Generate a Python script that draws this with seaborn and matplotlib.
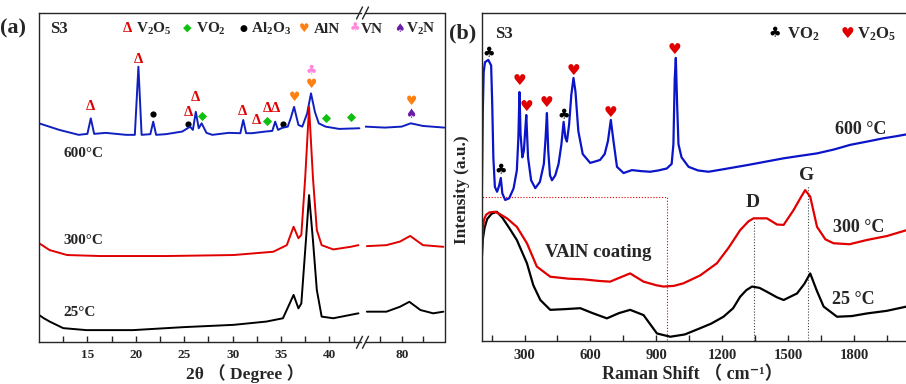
import numpy as np
import pandas as pd
import matplotlib
matplotlib.use("Agg")
import matplotlib.pyplot as plt
import seaborn as sns
from matplotlib.lines import Line2D

# ---------------- panel (a): XRD, 2theta (deg) vs intensity (a.u.) ----------------
xrd25_x = [10.0, 10.5, 11.1, 12.5, 14.9, 19.7, 24.9, 30.1, 33.5, 35.2, 35.9, 36.3, 36.8, 37.1, 37.6,
           37.9, 38.3, 38.7, 39.2, 40.4, 43.0, 75.9, 78.2, 79.8, 80.9, 82.2, 83.7, 84.9]
xrd25_y = [8.3, 7.3, 6.3, 4.3, 3.7, 3.7, 4.6, 5.3, 6.3, 7.3, 11.8, 14.4, 10.3, 11.8, 32.0,
           44.7, 31.0, 15.9, 7.8, 7.3, 8.8, 9.3, 9.3, 10.8, 12.3, 9.8, 8.8, 9.3]

xrd300_x = [10.0, 11.1, 12.9, 16.3, 23.2, 30.1, 34.2, 35.6, 36.3, 36.8, 37.1, 37.5, 37.9, 38.3, 38.7,
            39.2, 40.4, 42.2, 43.0, 75.9, 78.2, 79.8, 81.0, 82.5, 84.9]
xrd300_y = [30.1, 28.0, 26.5, 26.2, 26.2, 26.5, 27.5, 29.5, 35.1, 31.6, 32.6, 50.0, 71.5, 50.0, 34.1,
            29.5, 28.2, 29.0, 29.5, 29.2, 29.5, 30.6, 32.3, 29.5, 29.0]

xrd600_x = [10.0, 12.1, 14.1, 15.0, 15.35, 15.7, 16.9, 19.0, 19.9, 20.27, 20.6, 21.5, 21.8, 22.1, 23.1,
            24.8, 25.4, 25.6, 25.9, 26.2, 26.5, 26.8, 27.3, 27.9, 29.6, 30.8, 31.1, 31.4, 32.0, 33.4,
            34.1, 34.4, 34.7, 35.1, 35.7, 36.0, 36.35, 36.8, 37.2, 37.7, 38.1, 38.5, 38.9, 39.6, 41.0,
            43.1, 75.7, 78.0, 80.0, 81.06, 82.5, 85.0]
xrd600_y = [66.5, 64.5, 63.0, 63.3, 68.0, 63.3, 63.6, 63.0, 63.0, 83.7, 63.0, 63.2, 67.0, 63.0, 63.2,
            64.0, 65.1, 65.5, 64.5, 70.0, 65.0, 66.5, 63.6, 63.0, 63.6, 63.5, 67.5, 63.5, 63.5, 64.0,
            64.2, 67.0, 64.5, 65.1, 65.5, 68.0, 71.5, 66.0, 65.5, 69.5, 75.6, 70.0, 66.5, 65.5, 64.8,
            65.0, 65.5, 65.2, 65.5, 66.5, 65.7, 65.2]

# phase markers (position, height)
v2o5_pos = [15.35, 20.27, 25.4, 26.2, 31.0, 32.5, 33.6, 34.4]
v2o5_hgt = [71.5, 86.0, 69.8, 74.3, 70.0, 67.5, 71.1, 71.1]
vo2_pos = [26.8, 33.6, 39.6, 42.2]
vo2_hgt = [68.7, 67.2, 68.2, 68.5]
al2o3_pos = [21.8, 25.4, 35.2]
al2o3_hgt = [69.3, 66.3, 66.3]
aln_pos = [36.35, 38.1, 81.1]
aln_hgt = [74.3, 78.4, 73.1]
vn_pos = [38.1]
vn_hgt = [82.7]
v2n_pos = [81.1]
v2n_hgt = [69.2]

xrd_ticks_lo = [15, 20, 25, 30, 35, 40]
xrd_ticks_hi = [80]

# ---------------- panel (b): Raman ----------------
ram600_x = [106, 110, 114, 120, 135, 148, 153, 158, 165, 175, 185, 192, 199, 212, 230, 250, 265, 272, 277,
            282, 290, 297, 303, 308, 316, 330, 349, 370, 388, 396, 402, 408, 416, 425, 440, 455, 468, 478,
            486, 493, 503, 513, 523, 532, 545, 565, 599, 625, 644, 665, 680, 693, 705, 721, 751, 789, 830,
            872, 910, 948, 970, 978, 984, 989, 995, 1001, 1015, 1047, 1090, 1138, 1200, 1320, 1400, 1480,
            1560, 1632, 1710, 1783, 1860, 1934, 1990, 2040]
ram600_y = [46, 70, 82, 85, 85.7, 84, 72, 56, 47, 45.5, 47.5, 49.7, 45, 43, 43.5, 46.5, 52, 62, 75.9,
            63, 56, 58, 64, 68.9, 56, 49, 46.6, 48.5, 54, 62, 69.5, 58, 50.5, 49, 50.5, 54, 60, 66.8,
            62, 60.8, 66, 75, 80.2, 76, 64, 57, 54.3, 54.8, 55.2, 57, 61, 67.4, 61, 53.1, 51.2, 52.1, 51.8,
            51.6, 52, 52.6, 54, 60, 80, 86.3, 72, 60, 56, 53.1, 52, 51.6, 52.3, 53.7, 54.7, 55.7,
            56.5, 57.2, 58.4, 59.8, 60.8, 61.8, 62.4, 63.0]

ram300_x = [106, 110, 115, 125, 140, 167, 190, 220, 265, 311, 356, 417, 500, 569, 640, 690, 740, 781, 842,
            900, 933, 980, 1024, 1100, 1176, 1230, 1282, 1320, 1343, 1404, 1450, 1480, 1525, 1560, 1578,
            1601, 1632, 1670, 1707, 1780, 1859, 1950, 2040]
ram300_y = [28.7, 33.8, 36.9, 38.5, 39.2, 39.4, 38.6, 37.4, 34.8, 29.8, 22.7, 19.6, 19.0, 18.8, 18.3, 18.1,
            19.5, 20.6, 18.1, 17.0, 16.6, 16.8, 17.6, 20.0, 23.7, 28.5, 33.8, 36.5, 37.4, 37.4, 35.5,
            35.4, 39.9, 44.0, 46.0, 44.0, 34.8, 31.0, 29.8, 29.5, 30.8, 32.0, 33.8]

ram25_x = [106, 110, 118, 130, 150, 174, 200, 230, 265, 311, 340, 372, 417, 480, 554, 610, 675, 730, 781,
           842, 903, 964, 1030, 1100, 1150, 1206, 1250, 1282, 1310, 1336, 1370, 1404, 1450, 1480, 1541,
           1575, 1601, 1630, 1662, 1723, 1790, 1859, 1950, 2040]
ram25_y = [25.7, 31.0, 34.5, 37.2, 38.8, 39.4, 37.5, 34.5, 30.8, 23.7, 17.0, 12.5, 9.5, 9.7, 10.0, 8.5,
           6.9, 8.5, 9.5, 7.9, 2.3, 1.3, 2.0, 3.9, 5.3, 7.4, 10.0, 13.5, 15.5, 16.6, 16.2, 15.0, 13.3,
           12.5, 14.5, 17.5, 20.6, 15.5, 10.5, 7.4, 7.6, 8.4, 9.2, 10.5]

ram_vo2_pos = [136, 192, 478]
ram_vo2_hgt = [87.7, 52.1, 68.9]
ram_v2o5_pos = [277, 308, 402, 523, 693, 981]
ram_v2o5_hgt = [79.3, 71.6, 72.6, 82.4, 69.6, 88.9]

band_D = 1343
band_G = 1593
band_D_top = 36.9
band_G_top = 47.6
coating_box_x = [105.5, 948]
coating_box_top = 43.9
ram_ticks = [300, 600, 900, 1200, 1500, 1800]
ram_minor = [150, 450, 750, 1050, 1350, 1650, 1950]

# ---------------- style ----------------
sns.set_style("ticks")
plt.rcParams.update({
    "font.family": ["Liberation Serif", "DejaVu Sans", "Noto Sans CJK SC"],
    "font.weight": "bold",
    "axes.labelweight": "bold",
    "mathtext.fontset": "custom",
    "mathtext.rm": "Liberation Serif:bold",
    "mathtext.it": "Liberation Serif:italic:bold",
    "mathtext.bf": "Liberation Serif:bold",
    "mathtext.default": "rm",
    "axes.linewidth": 1.0,
    "axes.edgecolor": "#262626",
})

W, H = 906, 384
fig = plt.figure(figsize=(W / 100, H / 100), dpi=100)


def rect(l, t, r, b):
    return [l / W, 1 - b / H, (r - l) / W, (b - t) / H]


def P(x, y):
    return (x / W, 1 - y / H)


BLUE_A = "#1020C0"
RED = "#E00000"
BLK = "#000000"
GREEN = "#10C010"
ORANGE = "#FF8010"
PINK = "#FF88DD"
PURPLE = "#6A1CA8"
BLUE_B = "#0A14C8"
SYM = ["DejaVu Sans"]

# ---------------- panel (a) ----------------
ax1 = fig.add_axes(rect(39, 13, 361, 342.3))
ax2 = fig.add_axes(rect(365, 13, 444.5, 342.3))
ax1.set_xlim(10, 10 + 322 / 9.68)
ax2.set_xlim(75.68, 75.68 + 79.5 / 8.5)

series_a = [(xrd25_x, xrd25_y, BLK), (xrd600_x, xrd600_y, BLUE_A), (xrd300_x, xrd300_y, RED)]
for ax in (ax1, ax2):
    lo, hi = ax.get_xlim()
    for xs, ys, c in series_a:
        xs = np.asarray(xs); ys = np.asarray(ys)
        m = (xs >= lo - 0.5) & (xs <= hi + 0.5)
        sns.lineplot(x=xs[m], y=ys[m], ax=ax, color=c, linewidth=1.4,
                     sort=False, estimator=None)
    ax.set_ylim(0, 100)
    ax.set_yticks([])
    ax.set_xlabel("")
    ax.set_ylabel("")
    ax.tick_params(axis="x", which="both", direction="in", length=4, width=1,
                   top=False, labelsize=9.5, pad=5)

ax1.set_xticks(xrd_ticks_lo)
ax1.set_xticks([12.5, 17.5, 22.5, 27.5, 32.5, 37.5, 42.5], minor=True)
ax2.set_xticks(xrd_ticks_hi)
ax2.set_xticks([77.5, 82.5], minor=True)
ax1.spines["right"].set_visible(False)
ax2.spines["left"].set_visible(False)


def pick(x):
    return ax1 if x < 60 else ax2


for x, y in zip(v2o5_pos, v2o5_hgt):
    pick(x).text(x, y, "Δ", color=RED, fontsize=10.5, ha="center", va="center")
for x, y in zip(aln_pos, aln_hgt):
    pick(x).text(x, y, "♥", color=ORANGE, fontsize=9, ha="center", va="center", family=SYM)
for x, y in zip(vn_pos, vn_hgt):
    pick(x).text(x, y, "♣", color=PINK, fontsize=9, ha="center", va="center", family=SYM)
for x, y in zip(v2n_pos, v2n_hgt):
    pick(x).text(x, y, "♠", color=PURPLE, fontsize=9, ha="center", va="center", family=SYM)
sns.scatterplot(x=vo2_pos, y=vo2_hgt, ax=ax1, marker="D", s=22, color=GREEN, linewidth=0)
sns.scatterplot(x=al2o3_pos, y=al2o3_hgt, ax=ax1, marker="o", s=20, color=BLK, linewidth=0)

ax1.text(12.52, 57.2, "600°C", fontsize=11, ha="left", va="center")
ax1.text(12.52, 30.8, "300°C", fontsize=11, ha="left", va="center")
ax1.text(12.52, 9.0, "25°C", fontsize=11, ha="left", va="center")

ax1.set_ylabel("Intensity （ a.u. ）", fontsize=12.5)
ax1.yaxis.set_label_coords(-0.03, 0.53)

# break marks
for cx in (359.5, 365.5):
    for cy in (13, 342.3):
        x0, y0 = P(cx - 3, cy + 6)
        x1, y1 = P(cx + 3, cy - 6)
        fig.add_artist(Line2D([x0, x1], [y0, y1], color="#262626", lw=1.0,
                              transform=fig.transFigure))

fig.text(*P(245, 374), "2θ （ Degree ）", fontsize=12.5, ha="center", va="center")
fig.text(*P(0, 28), "(a)", fontsize=16, ha="left", va="center")
fig.text(*P(50, 33.3), "S3", fontsize=12, ha="left", va="baseline")

leg_a = [(127.5, "Δ", RED, 10.5, None, 136, "V$_2$O$_5$"),
         (187.5, "◆", GREEN, 8, SYM, 196, "VO$_2$"),
         (243, "●", BLK, 6.5, SYM, 250.5, "Al$_2$O$_3$"),
         (304, "♥", ORANGE, 8.5, SYM, 313.5, "AlN"),
         (355, "♣", PINK, 8.5, SYM, 361, "VN"),
         (399.5, "♠", PURPLE, 8.5, SYM, 406, "V$_2$N")]
for mx, g, c, fs, fam, tx, lab in leg_a:
    kw = {"family": fam} if fam else {}
    fig.text(*P(mx, 28), g, color=c, fontsize=fs, ha="center", va="center", **kw)
    fig.text(*P(tx, 33.3), lab, fontsize=11, ha="left", va="baseline")

# ---------------- panel (b) ----------------
axb = fig.add_axes(rect(481.7, 13, 906, 341))
axb.set_xlim(105, 105 + 424.3 / 0.2196)
axb.set_ylim(0, 100)

axb.plot([coating_box_x[0], coating_box_x[0], coating_box_x[1], coating_box_x[1]],
         [0, coating_box_top, coating_box_top, 0], color=RED, lw=0.8,
         linestyle=(0, (1, 1.6)), zorder=1)
axb.plot([band_D, band_D], [0, band_D_top], color="#444444", lw=0.8, linestyle=(0, (1, 1.6)))
axb.plot([band_G, band_G], [0, band_G_top], color="#444444", lw=0.8, linestyle=(0, (1, 1.6)))

sns.lineplot(x=ram25_x, y=ram25_y, ax=axb, color=BLK, linewidth=1.6, sort=False, estimator=None)
sns.lineplot(x=ram300_x, y=ram300_y, ax=axb, color=RED, linewidth=1.6, sort=False, estimator=None)
sns.lineplot(x=ram600_x, y=ram600_y, ax=axb, color=BLUE_B, linewidth=1.6, sort=False, estimator=None)

for x, y in zip(ram_vo2_pos, ram_vo2_hgt):
    axb.text(x, y, "♣", color=BLK, fontsize=10, ha="center", va="center", family=SYM)
for x, y in zip(ram_v2o5_pos, ram_v2o5_hgt):
    axb.text(x, y, "♥", color=RED, fontsize=11, ha="center", va="center", family=SYM)

axb.text(band_D - 2, 42.2, "D", fontsize=14, ha="center", va="center")
axb.text(1586, 50.6, "G", fontsize=14, ha="center", va="center")
axb.text(635, 27.0, "VAlN coating", fontsize=13.5, ha="center", va="center")
axb.text(1715, 64.6, "600 °C", fontsize=13, ha="left", va="center")
axb.text(1706, 34.5, "300 °C", fontsize=13, ha="left", va="center")
axb.text(1700, 12.5, "25 °C", fontsize=13, ha="left", va="center")

axb.set_xticks(ram_ticks)
axb.set_xticks(ram_minor, minor=True)
axb.set_yticks([])
axb.tick_params(axis="x", which="both", direction="in", length=4, width=1,
                top=False, labelsize=10.5, pad=6)
axb.spines["right"].set_visible(False)
axb.set_xlabel("")
axb.set_ylabel("Intensity (a.u.)", fontsize=12.5)
axb.yaxis.set_label_coords(-0.027, 0.46)

fig.text(*P(692, 375), "Raman Shift （ cm⁻¹）", fontsize=13, ha="center", va="center")
fig.text(*P(449, 33), "(b)", fontsize=16, ha="left", va="center")
fig.text(*P(495, 38.3), "S3", fontsize=12, ha="left", va="baseline")
fig.text(*P(775, 33), "♣", color=BLK, fontsize=10, ha="center", va="center", family=SYM)
fig.text(*P(787, 38.3), "VO$_2$", fontsize=12, ha="left", va="baseline")
fig.text(*P(847, 33), "♥", color=RED, fontsize=11, ha="center", va="center", family=SYM)
fig.text(*P(857, 38.3), "V$_2$O$_5$", fontsize=12, ha="left", va="baseline")

fig.savefig("out.png", dpi=100)
